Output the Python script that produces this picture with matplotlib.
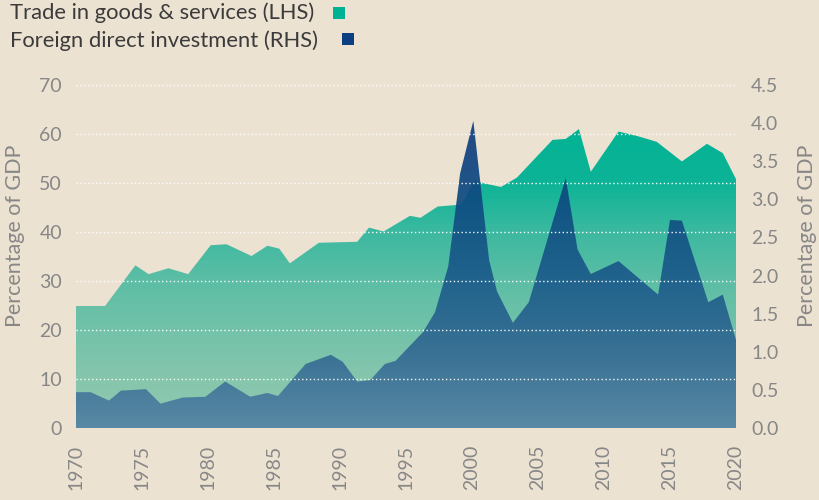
import numpy as np
import matplotlib
matplotlib.use("Agg")
import matplotlib.pyplot as plt
from matplotlib.patches import PathPatch, Rectangle
from matplotlib.colors import to_rgb

# ---------------- data ----------------
trade_years = [1970.0, 1972.2, 1974.5, 1975.5, 1977.0, 1978.5, 1980.2, 1981.4, 1983.3,
               1984.5, 1985.4, 1986.2, 1988.4, 1991.3, 1992.2, 1993.3, 1995.3, 1996.1,
               1997.4, 1999.2, 2000.2, 2000.6, 2002.2, 2003.4, 2006.1, 2007.1, 2008.1,
               2009.0, 2011.1, 2012.5, 2014.0, 2015.9, 2017.8, 2019.0, 2020.0]
trade_values = [24.9, 24.9, 33.2, 31.4, 32.6, 31.4, 37.3, 37.5, 35.1,
                37.2, 36.6, 33.6, 37.8, 38.0, 40.9, 40.1, 43.3, 42.9,
                45.2, 45.6, 50.5, 50.1, 49.2, 51.1, 58.8, 59.0, 61.0,
                52.3, 60.5, 59.6, 58.4, 54.4, 58.0, 56.1, 50.8]

fdi_years = [1970.0, 1971.1, 1972.5, 1973.4, 1975.3, 1976.4, 1978.1, 1979.8, 1981.3,
             1983.2, 1984.5, 1985.3, 1987.4, 1989.3, 1990.2, 1991.3, 1992.3, 1993.4,
             1994.2, 1996.3, 1997.2, 1998.2, 1999.1, 2000.1, 2001.3, 2001.9, 2003.1,
             2004.3, 2007.1, 2008.0, 2009.0, 2011.1, 2014.1, 2015.0, 2015.9, 2017.9,
             2019.0, 2020.0]
fdi_values = [0.47, 0.47, 0.36, 0.49, 0.51, 0.32, 0.40, 0.41, 0.61,
              0.41, 0.46, 0.42, 0.84, 0.96, 0.87, 0.61, 0.63, 0.84,
              0.88, 1.26, 1.52, 2.12, 3.34, 4.03, 2.20, 1.79, 1.38,
              1.65, 3.28, 2.34, 2.02, 2.19, 1.75, 2.73, 2.72, 1.65,
              1.75, 1.155]

x_ticks = [1970, 1975, 1980, 1985, 1990, 1995, 2000, 2005, 2010, 2015, 2020]
lhs_ticks = [0, 10, 20, 30, 40, 50, 60, 70]
rhs_ticks = [0.0, 0.5, 1.0, 1.5, 2.0, 2.5, 3.0, 3.5, 4.0, 4.5]

legend_labels = ["Trade in goods & services (LHS)", "Foreign direct investment (RHS)"]
y_label = "Percentage of GDP"

# ---------------- style ----------------
BG = "#ece2d2"
TICK_C = "#878787"
TEXT_C = "#3b3b3b"
TEAL = "#00b294"
NAVY = "#0b3f82"
FONT = ["Lato", "DejaVu Sans"]
plt.rcParams["font.family"] = FONT
TICK_FS = 14
LABEL_FS = 15.5
LEGEND_FS = 15.8

trade_stops_v = [0, 10, 20, 30, 40, 50, 62, 70]
trade_stops_c = ["#93c9b1", "#85c6ad", "#72c2a9", "#5cbea5", "#3cb9a0", "#0db497", "#02b294", "#02b294"]
fdi_stops_v = [0.0, 1.0, 2.0, 3.0, 4.0, 4.5]
fdi_stops_c = ["#5584a3", "#336b93", "#1b5b8b", "#0e4c82", "#143d80", "#143d80"]


def gradient_area(ax, xs, ys, stops_v, stops_c, ymax, alpha=1.0, z=1):
    poly = ax.fill_between(xs, 0, ys, facecolor="none", edgecolor="none")
    path = poly.get_paths()[0]
    patch = PathPatch(path, transform=ax.transData, facecolor="none", edgecolor="none")
    ax.add_patch(patch)
    n = 400
    vals = np.linspace(ymax, 0, n)
    cs = np.array([to_rgb(c) for c in stops_c])
    img = np.stack([np.interp(vals, stops_v, cs[:, k]) for k in range(3)], axis=-1)
    img = img[:, None, :]
    im = ax.imshow(img, extent=[min(xs), max(xs), 0, ymax], aspect="auto",
                   origin="upper", alpha=alpha, zorder=z, interpolation="bilinear")
    im.set_clip_path(patch)
    return im


fig = plt.figure(figsize=(8.2, 5.0), dpi=100, facecolor=BG)
pos = [76 / 820, 1 - 428 / 500, (736 - 76) / 820, (428 - 85) / 500]
ax = fig.add_axes(pos)
ax.patch.set_visible(False)
gradient_area(ax, trade_years, trade_values, trade_stops_v, trade_stops_c, 70)
ax.set_xlim(1970, 2020)
ax.set_ylim(0, 70)

ax2 = ax.twinx()
ax2.patch.set_visible(False)
gradient_area(ax2, fdi_years, fdi_values, fdi_stops_v, fdi_stops_c, 4.5, alpha=0.93)
ax2.set_xlim(1970, 2020)
ax2.set_ylim(0, 4.5)

# grid overlay axes (on top of both areas)
axg = fig.add_axes(pos, sharex=ax, sharey=ax)
axg.set_zorder(5)
axg.patch.set_visible(False)
for s in axg.spines.values():
    s.set_visible(False)
axg.tick_params(left=False, bottom=False, labelleft=False, labelbottom=False)
for v in lhs_ticks[1:]:
    axg.axhline(v, color="white", lw=1.0, ls=(0, (1.0, 1.8)), alpha=0.95)

for a in (ax, ax2):
    for s in a.spines.values():
        s.set_visible(False)

ax.set_xticks(x_ticks)
ax.set_xticklabels([str(t) for t in x_ticks], rotation=90, fontsize=TICK_FS, color=TICK_C)
ax.set_yticks(lhs_ticks)
ax.set_yticklabels([str(t) for t in lhs_ticks], fontsize=TICK_FS, color=TICK_C)
ax.tick_params(axis="both", length=0)
ax.tick_params(axis="y", pad=10)
ax.tick_params(axis="x", pad=12)
ax2.set_yticks(rhs_ticks)
ax2.set_yticklabels([f"{t:.1f}" for t in rhs_ticks], fontsize=TICK_FS, color=TICK_C)
ax2.tick_params(axis="y", length=0, pad=11)

ax.set_ylabel(y_label, fontsize=LABEL_FS, color=TICK_C)
ax.yaxis.set_label_coords(-0.077, 0.56)
ax2.set_ylabel(y_label, fontsize=LABEL_FS, color=TICK_C, rotation=90)
ax2.yaxis.set_label_coords(1.093, 0.56)

# legend
fig.text(10 / 820, 1 - 13 / 500, legend_labels[0], fontsize=LEGEND_FS, color=TEXT_C, va="center", ha="left")
fig.text(10 / 820, 1 - 41 / 500, legend_labels[1], fontsize=LEGEND_FS, color=TEXT_C, va="center", ha="left")
fig.patches.append(Rectangle((333 / 820, 1 - 19 / 500), 12 / 820, 12 / 500,
                             transform=fig.transFigure, facecolor=TEAL, edgecolor="none"))
fig.patches.append(Rectangle((342 / 820, 1 - 45 / 500), 12 / 820, 12 / 500,
                             transform=fig.transFigure, facecolor=NAVY, edgecolor="none"))

fig.savefig("out.png", dpi=100, facecolor=BG)
